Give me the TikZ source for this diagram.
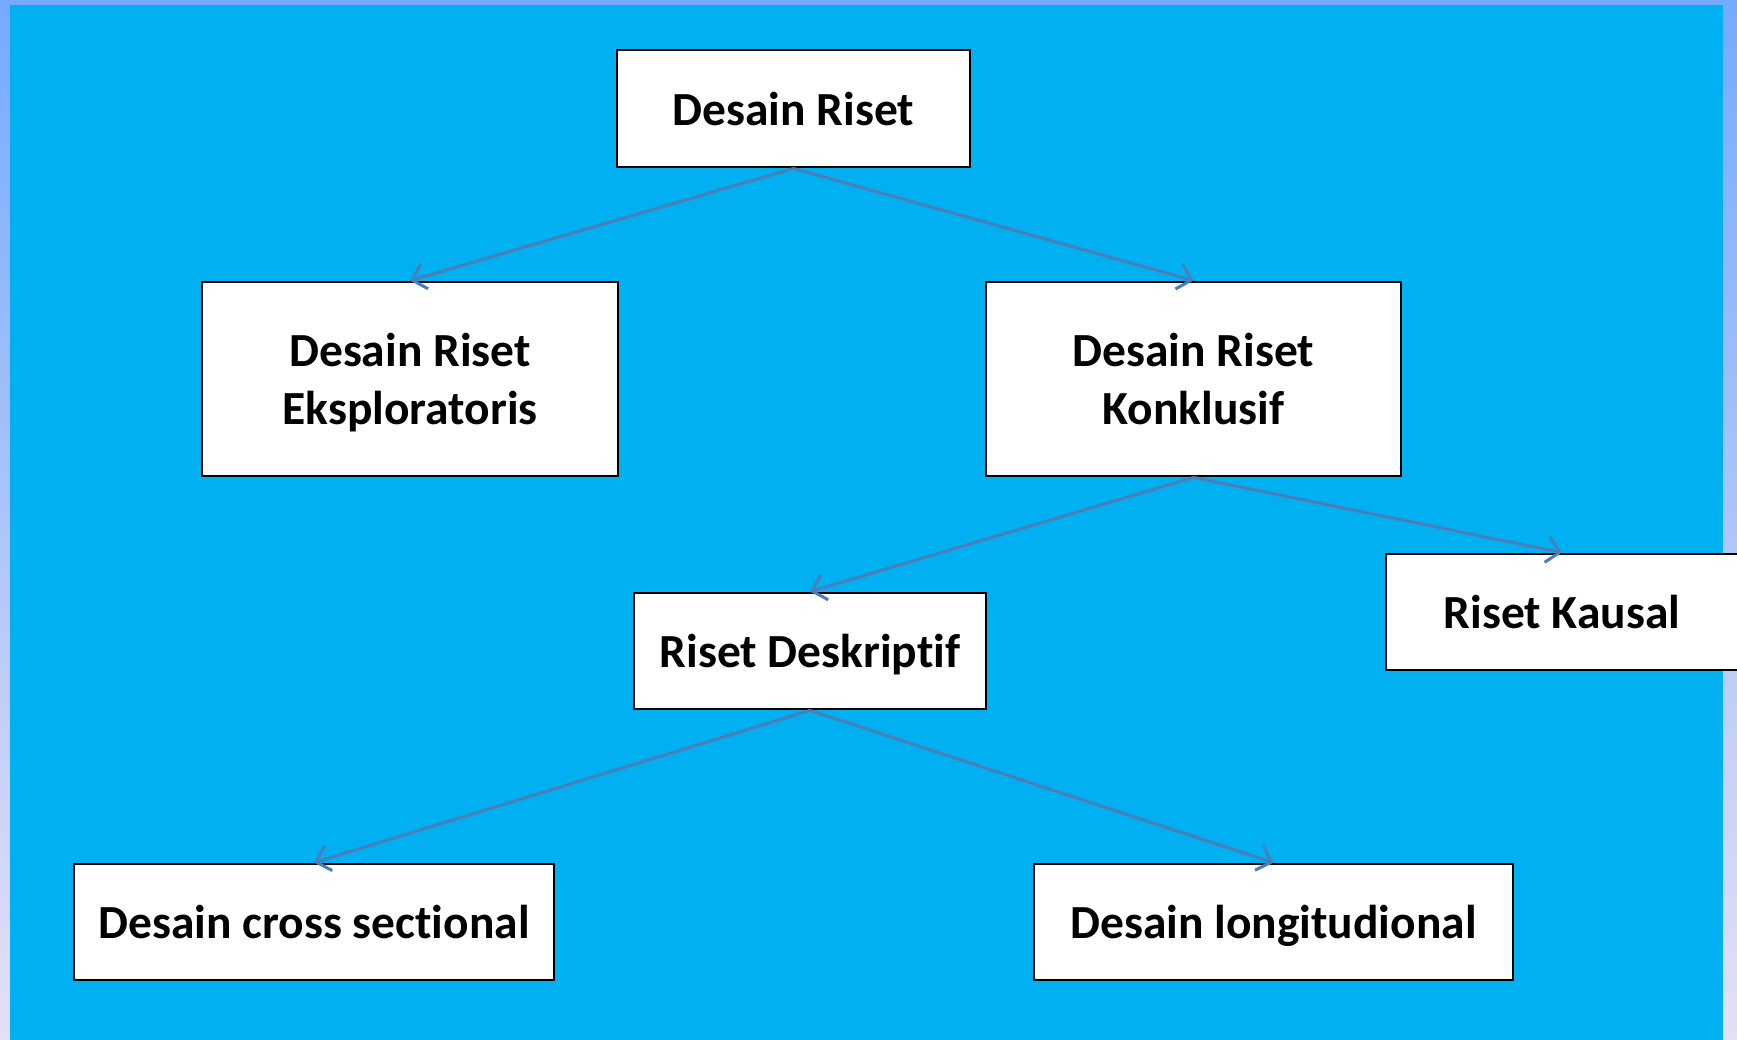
\documentclass[tikz,border=0pt]{standalone}
\usepackage{fontspec}
\setmainfont[Ligatures=NoCommon]{Carlito}
\usetikzlibrary{arrows.meta}
\definecolor{cyanbg}{RGB}{0,176,240}
\definecolor{frametop}{RGB}{116,170,255}
\definecolor{framemid}{RGB}{140,190,255}
\definecolor{framebot}{RGB}{228,224,245}
\definecolor{connblue}{RGB}{74,126,187}
\tikzset{
  box/.style={draw=black, line width=2.8pt, fill=white, inner sep=0pt, align=center,
    font=\fontsize{47.5}{58}\selectfont\bfseries, text height=33pt, text depth=0pt},
  twoline/.style={text height=91pt, text depth=0pt},
  conn/.style={draw=connblue, line width=3pt,
    -{Straight Barb[length=13pt,width=26pt,line width=3pt]}}
}
\begin{document}
\begin{tikzpicture}[x=1pt,y=-1pt]
\useasboundingbox (0,0) rectangle (1737,1039);
\shade[top color=frametop, middle color=framemid, bottom color=framebot] (0,0) rectangle (1737,1039);
\fill[cyanbg] (10,5) rectangle (1723,1041);

\node[box, minimum width=353, minimum height=117] (dr) at (793.5,108.5) {Desain Riset};
\node[box, twoline, minimum width=416, minimum height=194] (de) at (410,379) {Desain Riset\\Eksploratoris};
\node[box, twoline, minimum width=415, minimum height=194] (dk) at (1193.5,379) {Desain Riset\\Konklusif};
\node[box, minimum width=352, minimum height=116] (rd) at (810,651) {Riset Deskriptif};
\node[box, minimum width=352, minimum height=116] (rk) at (1562,612) {Riset Kausal};
\node[box, minimum width=480, minimum height=116] (cs) at (314,922) {Desain cross sectional};
\node[box, minimum width=479, minimum height=116] (dl) at (1273.5,922) {Desain longitudional};

\draw[conn] (dr.south) -- (de.north);
\draw[conn] (dr.south) -- (dk.north);
\draw[conn] (dk.south) -- (rd.north);
\draw[conn] (dk.south) -- (rk.north);
\draw[conn] (rd.south) -- (cs.north);
\draw[conn] (rd.south) -- (dl.north);
\end{tikzpicture}
\end{document}
